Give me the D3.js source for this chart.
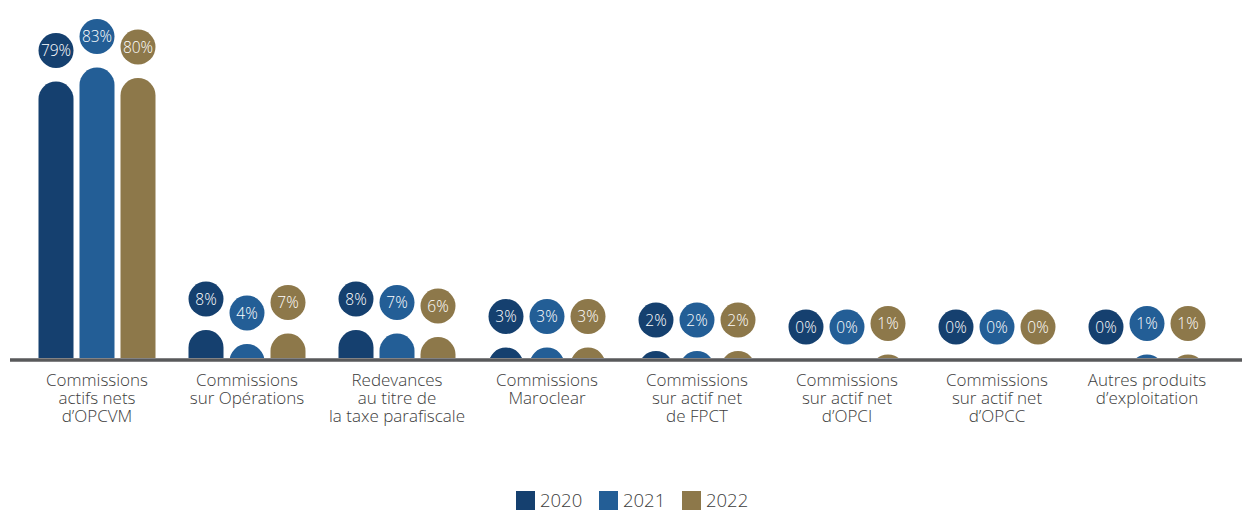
<!DOCTYPE html>
<html>
<head>
<meta charset="utf-8">
<script src="https://cdn.jsdelivr.net/npm/d3@7"></script>
<style>
  html, body { margin: 0; padding: 0; background: #ffffff; }
  svg { display: block; }
  text { font-family: "Open Sans", "Noto Sans", sans-serif; }
</style>
</head>
<body>
<svg id="chart" width="1242" height="513"></svg>
<script>
// ---- data ----
const categories = [
  ["Commissions", "actifs nets", "d’OPCVM"],
  ["Commissions", "sur Opérations"],
  ["Redevances", "au titre de", "la taxe parafiscale"],
  ["Commissions", "Maroclear"],
  ["Commissions", "sur actif net", "de FPCT"],
  ["Commissions", "sur actif net", "d’OPCI"],
  ["Commissions", "sur actif net", "d’OPCC"],
  ["Autres produits", "d’exploitation"]
];
const years = ["2020", "2021", "2022"];
const values2020 = [79, 8, 8, 3, 2, 0, 0, 0];
const values2021 = [83, 4, 7, 3, 2, 0, 0, 1];
const values2022 = [80, 7, 6, 3, 2, 1, 0, 1];
const colors = ["#15406f", "#235e96", "#8d784a"];

const seriesValues = [values2020, values2021, values2022];
const catKeys = categories.map(c => c.join(" "));

// ---- layout ----
const svg = d3.select("#chart");
const baseline = 358;
const barW = 35, r = barW / 2;

const x0 = d3.scaleBand().domain(catKeys).range([22, 1222]).paddingInner(0).paddingOuter(0);
const x1 = d3.scaleBand().domain(years).range([16.5, 133.5]).paddingInner(6 / 41).paddingOuter(0);
const y = d3.scaleLinear().domain([0, 100]).range([baseline, baseline - 350]);
const color = d3.scaleOrdinal().domain(years).range(colors);

svg.append("defs").append("clipPath").attr("id", "above")
  .append("rect").attr("x", 0).attr("y", 0).attr("width", 1242).attr("height", baseline);

const data = [];
catKeys.forEach((c, i) => {
  years.forEach((yr, j) => {
    data.push({ cat: c, year: yr, value: seriesValues[j][i] });
  });
});

function barPath(d) {
  const x = x0(d.cat) + x1(d.year);
  const top = y(d.value);
  return `M${x},${baseline + 2} V${top + r} A${r},${r} 0 0 1 ${x + barW},${top + r} V${baseline + 2} Z`;
}

svg.append("g").attr("clip-path", "url(#above)")
  .selectAll("path").data(data.filter(d => d.value > 0)).join("path")
  .attr("d", barPath)
  .attr("fill", d => color(d.year));

// axis line
const axisScale = d3.scaleLinear().domain([0, 1]).range([10, 1242]);
svg.append("line")
  .attr("x1", axisScale(0)).attr("x2", axisScale(1))
  .attr("y1", baseline + 2).attr("y2", baseline + 2)
  .attr("stroke", "#58595b").attr("stroke-width", 3.6);

// value bubbles
const bubbles = svg.append("g").selectAll("g").data(data).join("g")
  .attr("transform", d => `translate(${x0(d.cat) + x1(d.year) + barW / 2},${y(d.value) - 31})`);
bubbles.append("circle").attr("r", r).attr("fill", d => color(d.year));
bubbles.append("text")
  .attr("text-anchor", "middle").attr("dy", "0.36em")
  .attr("fill", "#ffffff").attr("font-size", 15.5).attr("font-weight", 300)
  .text(d => d.value + "%");

// category labels
const labels = svg.append("g").selectAll("text").data(categories).join("text")
  .attr("text-anchor", "middle")
  .attr("fill", "#3c3c3c").attr("font-size", 17).attr("font-weight", 300)
  .attr("transform", (d, i) => `translate(${x0(catKeys[i]) + x0.bandwidth() / 2},386)`);
labels.selectAll("tspan").data(d => d).join("tspan")
  .attr("x", 0).attr("dy", (d, i) => i === 0 ? 0 : 18)
  .text(d => d);

// legend
const legendX = d3.scalePoint().domain(years).range([516, 682]);
const leg = svg.append("g").selectAll("g").data(years).join("g")
  .attr("transform", d => `translate(${legendX(d)},491)`);
leg.append("rect").attr("width", 19).attr("height", 19).attr("fill", d => color(d));
leg.append("text").attr("x", 24).attr("y", 16)
  .attr("fill", "#3c3c3c").attr("font-size", 18.5).attr("font-weight", 300)
  .text(d => d);
</script>
</body>
</html>
